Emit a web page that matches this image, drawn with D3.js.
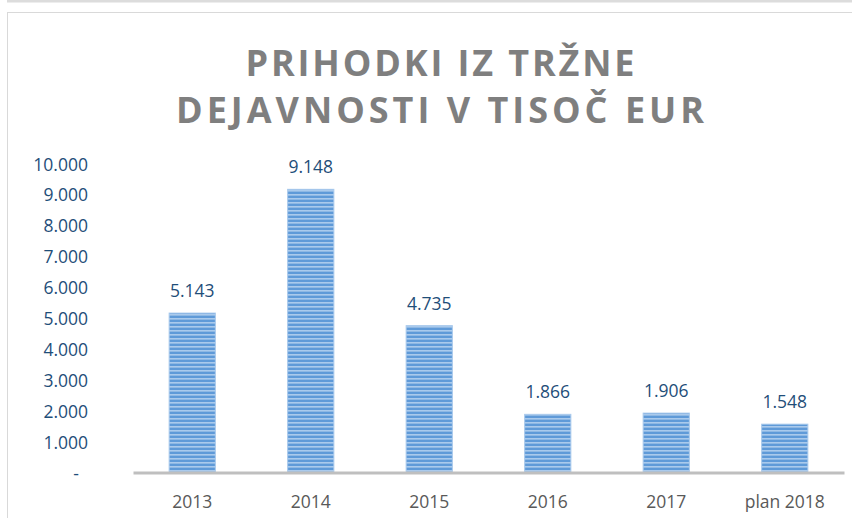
<!DOCTYPE html>
<html>
<head>
<meta charset="utf-8">
<script src="https://cdn.jsdelivr.net/npm/d3@7"></script>
<style>
  body { margin: 0; background: #fff; }
  svg { display: block; font-family: "Open Sans", sans-serif; }
</style>
</head>
<body>
<svg id="chart" width="852" height="518"></svg>
<script>
// data
const categories = ["2013", "2014", "2015", "2016", "2017", "plan 2018"]
const values = [5143, 9148, 4735, 1866, 1906, 1548]
const yTicks = [0, 1000, 2000, 3000, 4000, 5000, 6000, 7000, 8000, 9000, 10000]
const titleLines = ["PRIHODKI IZ TRŽNE", "DEJAVNOSTI V TISOČ EUR"]

const svg = d3.select("#chart")

// thousands separated with a dot, zero shown as a dash (accounting style)
const fmt = d => d3.format(",")(d).replace(/,/g, ".")

// frame bits round the chart
svg.append("rect").attr("x", 7).attr("y", 0).attr("width", 845).attr("height", 2.5).attr("fill", "#dcdcdc")
svg.append("rect").attr("x", 7.5).attr("y", 12.5).attr("width", 860).attr("height", 520)
   .attr("fill", "none").attr("stroke", "#d9d9d9")

// striped fill for the bars
const pat = svg.append("defs").append("pattern")
  .attr("id", "stripes").attr("patternUnits", "userSpaceOnUse")
  .attr("width", 8).attr("height", 4)
pat.append("rect").attr("width", 8).attr("height", 4).attr("fill", "#5f9ad8")
pat.append("rect").attr("y", 2.2).attr("width", 8).attr("height", 1.3).attr("fill", "#bcd6f1")

// title
svg.append("g").selectAll("text").data(titleLines).join("text")
  .attr("x", 440).attr("y", (d, i) => 76 + i * 47)
  .attr("text-anchor", "middle")
  .attr("font-size", 36).attr("font-weight", 700).attr("fill", "#7f7f7f")
  .attr("textLength", (d, i) => i === 0 ? 389 : 528)
  .attr("lengthAdjust", "spacing")
  .text(d => d)

const x = d3.scaleBand().domain(categories).range([133, 844])
  .paddingInner(0.61).paddingOuter(0.305)
const y = d3.scaleLinear().domain([0, 10000]).range([472, 163])

// y axis labels, no line
const yAxis = svg.append("g").attr("transform", "translate(88,0)")
  .call(d3.axisLeft(y).tickValues(yTicks).tickSize(0).tickPadding(0)
    .tickFormat(d => d === 0 ? "-" : fmt(d)))
yAxis.select(".domain").remove()
yAxis.selectAll("text").attr("font-size", 17.5).attr("fill", "#1f4e79")
  .attr("font-family", "Open Sans, sans-serif")
  .attr("dy", "0.4em")
  .attr("x", d => d === 0 ? -9 : 0)

// bars
svg.append("g").selectAll("rect").data(values).join("rect")
  .attr("x", (d, i) => x(categories[i]))
  .attr("y", d => y(d))
  .attr("width", x.bandwidth())
  .attr("height", d => y(0) - y(d))
  .attr("fill", "url(#stripes)")
  .attr("stroke", "#a9c9ec").attr("stroke-width", 1)

// data labels
svg.append("g").selectAll("text").data(values).join("text")
  .attr("x", (d, i) => x(categories[i]) + x.bandwidth() / 2)
  .attr("y", d => y(d) - 16)
  .attr("text-anchor", "middle")
  .attr("font-size", 17.5).attr("fill", "#1f4e79")
  .text(d => fmt(d))

// x axis: baseline plus category labels
const xAxis = svg.append("g").attr("transform", "translate(0,472.5)")
  .call(d3.axisBottom(x).tickSize(0).tickPadding(0))
xAxis.select(".domain").attr("stroke", "#bfbfbf").attr("stroke-width", 3)
xAxis.selectAll("text").attr("font-size", 17.5).attr("fill", "#595959")
  .attr("font-family", "Open Sans, sans-serif")
  .attr("dy", null).attr("y", 35)
</script>
</body>
</html>
